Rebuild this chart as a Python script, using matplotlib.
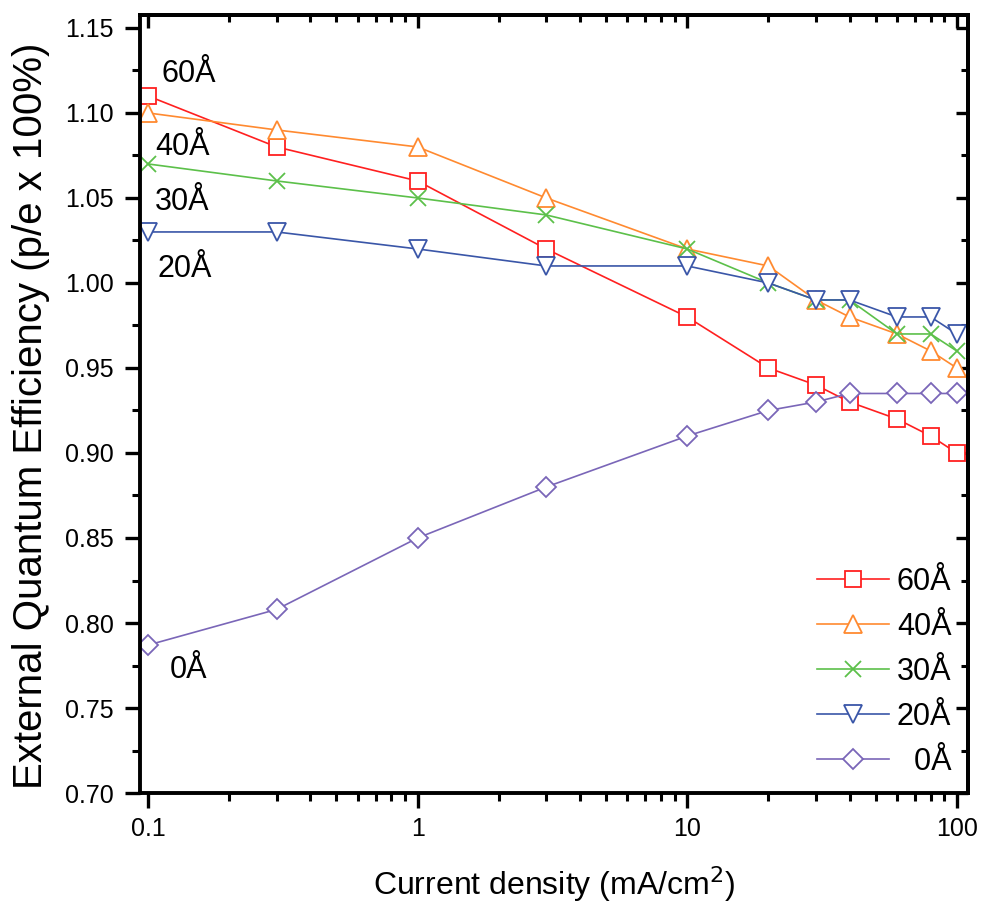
import matplotlib
matplotlib.use("Agg")
import matplotlib.pyplot as plt
from matplotlib.ticker import FixedLocator, LogLocator, NullFormatter, FixedFormatter

plt.rcParams['font.family'] = ['Liberation Sans', 'DejaVu Sans']

current = [0.1, 0.3, 1, 3, 10, 20, 30, 40, 60, 80, 100]
eqe_60 = [1.11, 1.08, 1.06, 1.02, 0.98, 0.95, 0.94, 0.93, 0.92, 0.91, 0.90]
eqe_40 = [1.10, 1.09, 1.08, 1.05, 1.02, 1.01, 0.99, 0.98, 0.97, 0.96, 0.95]
eqe_30 = [1.07, 1.06, 1.05, 1.04, 1.02, 1.00, 0.99, 0.99, 0.97, 0.97, 0.96]
eqe_20 = [1.03, 1.03, 1.02, 1.01, 1.01, 1.00, 0.99, 0.99, 0.98, 0.98, 0.97]
eqe_0 = [0.787, 0.808, 0.85, 0.88, 0.91, 0.925, 0.93, 0.935, 0.935, 0.935, 0.935]

series_labels = ['60Å', '40Å', '30Å', '20Å', '  0Å']
annot_labels = ['60Å', '40Å', '30Å', '20Å', '0Å']
annot_pos = [(0.1127, 1.1182), (0.1062, 1.0753), (0.1062, 1.0429), (0.1089, 1.0035), (0.1206, 0.7676)]
colors = ['#ff2020', '#ff8a30', '#5cc04a', '#3a56a8', '#7a66b8']
markers = ['s', '^', 'x', 'v', 'D']
msizes = [11, 13, 12, 13, 10.5]
data = [eqe_60, eqe_40, eqe_30, eqe_20, eqe_0]

fig = plt.figure(figsize=(9.83, 9.15), dpi=100)
ax = fig.add_axes([0.1424, 0.1333, 0.8423, 0.8503])

for y, c, m, ms, lab in zip(data, colors, markers, msizes, series_labels):
    ax.plot(current, y, color=c, marker=m, markersize=ms, markerfacecolor='white',
            markeredgecolor=c, markeredgewidth=1.3, linewidth=1.2, label=lab)

ax.set_xscale('log')
ax.set_xlim(0.0934, 110)
ax.set_ylim(0.70, 1.1576)

ax.xaxis.set_major_locator(FixedLocator([0.1, 1, 10, 100]))
ax.xaxis.set_major_formatter(FixedFormatter(['0.1', '1', '10', '100']))
ax.xaxis.set_minor_locator(LogLocator(base=10, subs=range(2, 10)))
ax.xaxis.set_minor_formatter(NullFormatter())
yt = [0.70, 0.75, 0.80, 0.85, 0.90, 0.95, 1.00, 1.05, 1.10, 1.15]
ymin = [0.725 + 0.05 * i for i in range(9)]
ax.yaxis.set_major_locator(FixedLocator(yt))
ax.yaxis.set_major_formatter(FixedFormatter(['%.2f' % v for v in yt]))
ax.yaxis.set_minor_locator(FixedLocator(ymin))

ax.tick_params(which='major', direction='out', length=11, width=2.4, labelsize=18, pad=6)
ax.tick_params(axis='y', which='major', pad=8)
ax.tick_params(which='minor', direction='out', length=5.5, width=2.2)
for s in ax.spines.values():
    s.set_linewidth(2.8)

top = ax.secondary_xaxis('top')
top.xaxis.set_major_locator(FixedLocator([0.1, 1, 10, 100]))
top.xaxis.set_minor_locator(LogLocator(base=10, subs=range(2, 10)))
top.xaxis.set_major_formatter(NullFormatter())
top.xaxis.set_minor_formatter(NullFormatter())
top.tick_params(which='major', direction='in', length=9, width=2.4)
top.tick_params(which='minor', direction='in', length=5, width=2.2)
top.spines['top'].set_linewidth(2.8)

right = ax.secondary_yaxis('right')
right.yaxis.set_major_locator(FixedLocator(yt))
right.yaxis.set_minor_locator(FixedLocator(ymin))
right.yaxis.set_major_formatter(NullFormatter())
right.tick_params(which='major', direction='in', length=9, width=2.4)
right.tick_params(which='minor', direction='in', length=5, width=2.2)
right.spines['right'].set_linewidth(2.8)

ax.set_xlabel('Current density (mA/cm$^2$)', fontsize=23, labelpad=17)
ax.set_ylabel('External Quantum Efficiency (p/e x 100%)', fontsize=29)
ax.yaxis.set_label_coords(-0.109, 0.485)

for (x, y), t in zip(annot_pos, annot_labels):
    ax.text(x, y, t, fontsize=22, ha='left', va='baseline')

leg = ax.legend(loc='lower right', frameon=False, fontsize=22, handlelength=2.36,
                labelspacing=0.49, handletextpad=0.26, borderaxespad=0.14,
                bbox_to_anchor=(1.0, 0.0))

fig.savefig('out.png', dpi=100)
